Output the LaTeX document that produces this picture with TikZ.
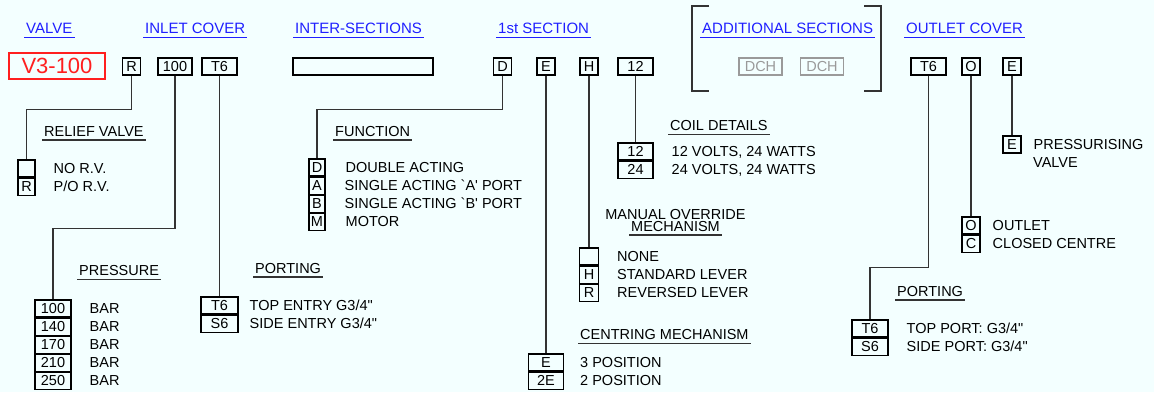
\documentclass[tikz,border=0pt]{standalone}
\usepackage{fontspec}
\setmainfont{Liberation Sans}[Ligatures=TeXOff]
\usepackage{xcolor}
\definecolor{cBack}{HTML}{F3FFFF}
\definecolor{cLink}{HTML}{1F1FFF}
\definecolor{cRed}{HTML}{FF1F1F}
\definecolor{cLine}{HTML}{333333}
\definecolor{cGray}{HTML}{9A9A9A}
\usepackage{tikz}
\usetikzlibrary{positioning}
\newcommand\fBody{\fontsize{14.5}{17}\selectfont}
\newcommand\fHead{\fontsize{15}{18}\selectfont}
\newcommand\fCode{\fontsize{22}{26}\selectfont}
\tikzset{
  node-cell/.style={draw=black,line width=1.05pt,inner sep=0pt,
    minimum width=18pt,minimum height=17pt,text height=10pt,text depth=0pt,
    font=\fBody},
  node-cell-wide/.style={node-cell,minimum width=35pt},
  node-cell-dim/.style={node-cell,draw=cGray,text=cGray,minimum width=43pt},
  node-code/.style={draw=cRed,text=cRed,line width=1.3pt,inner sep=0pt,
    minimum width=96pt,minimum height=26pt,font=\fCode},
  node-text/.style={inner sep=0pt,text height=10pt,text depth=0pt,font=\fBody},
  node-head/.style={anchor=south west,inner xsep=2pt,inner ysep=3pt,
    text depth=0pt,font=\fHead,text=cLink,
    append after command={(\tikzlastnode.south west)
      edge[draw=cLink,line width=1pt] (\tikzlastnode.south east)}},
  node-sec/.style={anchor=south west,inner xsep=2pt,inner ysep=3.5pt,
    text depth=0pt,font=\fBody,
    append after command={(\tikzlastnode.south west)
      edge[draw=cLine,line width=1.2pt] (\tikzlastnode.south east)}},
  link/.style={draw=cLine,line width=1.2pt},
}

\begin{document}
\begin{tikzpicture}[x=1pt,y=-1pt]
  \fill[cBack] (0,0) rectangle (1154,392);
  \useasboundingbox (0,0) rectangle (1154,392);

  % headings
  \node[node-head] (hValve)  at (24,37)  {VALVE};
  \node[node-head] (hInlet)  at (143,37) {INLET COVER};
  \node[node-head] (hInter)  at (293,37) {INTER-SECTIONS};
  \node[node-head] (hFirst)  at (496,37) {1st SECTION};
  \node[node-head] (hAdd)    at (700,37) {ADDITIONAL SECTIONS};
  \node[node-head] (hOutlet) at (904,37) {OUTLET COVER};

  % code row
  \node[node-code] (vCode) at (57,66) {V3-100};
  \node[node-cell] (vR) at (131.5,66.5) {R};
  \node[node-cell,minimum width=34pt] (v100) at (175,66.5) {100};
  \node[node-cell-wide] (vT6) at (219.5,66.5) {T6};
  \node[node-cell,minimum width=140pt] (vInter) at (363,66.5) {};
  \node[node-cell] (sD) at (502.5,66.5) {D};
  \node[node-cell] (sE) at (546,66.5) {E};
  \node[node-cell] (sH) at (589,66.5) {H};
  \node[node-cell-wide] (s12) at (635.5,66.5) {12};
  \node[node-cell-dim] (aDch1) at (760.5,66.5) {DCH};
  \node[node-cell-dim] (aDch2) at (822,66.5) {DCH};
  \node[node-cell-wide] (oT6) at (928.5,66.5) {T6};
  \node[node-cell] (oO) at (971,66.5) {O};
  \node[node-cell] (oE) at (1012,66.5) {E};
  \draw[link] (709,6) -| (692,91) -- (709,91);
  \draw[link] (864,6) -| (881,91) -- (864,91);

  % relief valve
  \node[node-sec] (rvHead) at (42,140) {RELIEF VALVE};
  \node[node-cell,minimum width=17pt] (rvNone) at (26.5,168.5) {};
  \node[node-cell,minimum width=17pt,below=0pt of rvNone] (rvR) {R};
  \node[node-text,right=18pt of rvNone] (rvNoneTxt) {NO R.V.};
  \node[node-text,right=18pt of rvR] (rvRTxt) {P/O R.V.};

  % pressure
  \node[node-sec] (prHead) at (77,279.5) {PRESSURE};
  \node[node-cell,minimum width=36pt] (pr100) at (53,308.5) {100};
  \node[node-cell,minimum width=36pt,below=0pt of pr100] (pr140) {140};
  \node[node-cell,minimum width=36pt,below=0pt of pr140] (pr170) {170};
  \node[node-cell,minimum width=36pt,below=0pt of pr170] (pr210) {210};
  \node[node-cell,minimum width=36pt,below=0pt of pr210] (pr250) {250};
  \foreach \p in {100,140,170,210,250}
    \node[node-text,right=18pt of pr\p] {BAR};

  % inlet porting
  \node[node-sec] (ptHead) at (253,277) {PORTING};
  \node[node-cell,minimum width=37pt] (ptT6) at (219.5,305.5) {T6};
  \node[node-cell,minimum width=37pt,below=0pt of ptT6] (ptS6) {S6};
  \node[node-text,right=11pt of ptT6] (ptT6Txt) {TOP ENTRY G3/4"};
  \node[node-text,right=11pt of ptS6] (ptS6Txt) {SIDE ENTRY G3/4"};

  % function
  \node[node-sec] (fnHead) at (333,140) {FUNCTION};
  \node[node-cell,minimum width=16pt] (fnD) at (317,167.5) {D};
  \node[node-cell,minimum width=16pt,below=0pt of fnD] (fnA) {A};
  \node[node-cell,minimum width=16pt,below=0pt of fnA] (fnB) {B};
  \node[node-cell,minimum width=16pt,below=0pt of fnB] (fnM) {M};
  \node[node-text,right=20pt of fnD] (fnDTxt) {DOUBLE ACTING};
  \node[node-text,right=19pt of fnA] (fnATxt) {SINGLE ACTING `A' PORT};
  \node[node-text,right=19pt of fnB] (fnBTxt) {SINGLE ACTING `B' PORT};
  \node[node-text,right=20pt of fnM] (fnMTxt) {MOTOR};

  % coil details
  \node[node-sec] (coHead) at (668,134.5) {COIL DETAILS};
  \node[node-cell-wide] (co12) at (635.5,151.5) {12};
  \node[node-cell-wide,below=0pt of co12] (co24) {24};
  \node[node-text,right=18pt of co12] (co12Txt) {12 VOLTS, 24 WATTS};
  \node[node-text,right=18pt of co24] (co24Txt) {24 VOLTS, 24 WATTS};

  % manual override
  \node[node-text,anchor=base] (moHead) at (675.5,219) {MANUAL OVERRIDE};
  \node[node-sec] (moHead2) at (629,235) {MECHANISM};
  \node[node-cell,minimum width=19pt] (moNone) at (589,256.5) {};
  \node[node-cell,minimum width=19pt,below=0pt of moNone] (moH) {H};
  \node[node-cell,minimum width=19pt,below=0pt of moH] (moR) {R};
  \node[node-text,right=18pt of moNone] (moNoneTxt) {NONE};
  \node[node-text,right=18pt of moH] (moHTxt) {STANDARD LEVER};
  \node[node-text,right=18pt of moR] (moRTxt) {REVERSED LEVER};

  % centring
  \node[node-sec] (ceHead) at (578,343.5) {CENTRING MECHANISM};
  \node[node-cell-wide] (ceE) at (546,362.5) {E};
  \node[node-cell-wide,below=0pt of ceE] (ce2E) {2E};
  \node[node-text,right=16pt of ceE] (ceETxt) {3 POSITION};
  \node[node-text,right=16pt of ce2E] (ce2ETxt) {2 POSITION};

  % outlet cover
  \node[node-cell] (pvE) at (1012,144.5) {E};
  \node[node-text,right=12pt of pvE] (pvTxt) {PRESSURISING};
  \node[node-text,anchor=base west] (pvTxt2) at (1033,167) {VALVE};
  \node[node-cell] (ocO) at (971,225.5) {O};
  \node[node-cell,below=0pt of ocO] (ocC) {C};
  \node[node-text,right=12pt of ocO] (ocOTxt) {OUTLET};
  \node[node-text,right=12pt of ocC] (ocCTxt) {CLOSED CENTRE};
  \node[node-sec] (opHead) at (895,300) {PORTING};
  \node[node-cell,minimum width=36pt] (opT6) at (870,328.5) {T6};
  \node[node-cell,minimum width=36pt,below=0pt of opT6] (opS6) {S6};
  \node[node-text,right=18pt of opT6] (opT6Txt) {TOP PORT: G3/4"};
  \node[node-text,right=18pt of opS6] (opS6Txt) {SIDE PORT: G3/4"};

  % leaders
  \draw[link] (vR.south) -- ++(0,34) -| (rvNone.north);
  \draw[link] (v100.south) -- ++(0,153) -| (pr100.north);
  \draw[link] (vT6.south) -- (ptT6.north);
  \draw[link] (sD.south) -- ++(0,34) -| (fnD.north);
  \draw[link] (sE.south) -- (ceE.north);
  \draw[link] (sH.south) -- (moNone.north);
  \draw[link] (s12.south) -- (co12.north);
  \draw[link] (oT6.south) -- ++(0,192) -| (opT6.north);
  \draw[link] (oO.south) -- (ocO.north);
  \draw[link] (oE.south) -- (pvE.north);
\end{tikzpicture}
\end{document}
